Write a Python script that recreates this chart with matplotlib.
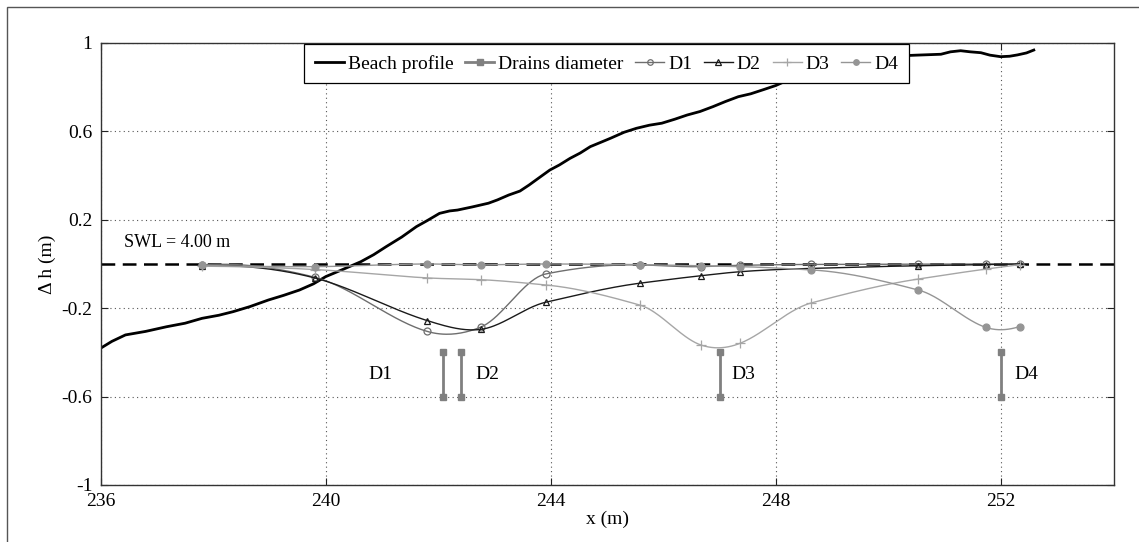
import numpy as np
import matplotlib
matplotlib.use("Agg")
import matplotlib.pyplot as plt
from matplotlib.patches import Rectangle

plt.rcParams['font.family'] = ['Liberation Serif', 'DejaVu Serif']

# ---------------- data ----------------
profile_x = [236.0, 236.20, 236.44, 236.80, 237.17, 237.50, 237.80, 238.10, 238.35,
             238.65, 238.98, 239.25, 239.53, 239.78, 240.0, 240.30, 240.62,
             240.85, 241.07, 241.35, 241.61, 241.80, 242.02, 242.20, 242.34, 242.60,
             242.89, 243.05, 243.25, 243.45, 243.61, 243.80, 243.98, 244.15, 244.34,
             244.52, 244.70, 244.90, 245.06, 245.30, 245.52, 245.75, 245.97, 246.20,
             246.42, 246.65, 246.88, 247.10, 247.33, 247.55, 247.79, 248.0, 248.15,
             248.5, 249.0, 249.5, 250.0, 250.5, 250.93, 251.10, 251.28, 251.45,
             251.64, 251.80, 251.99, 252.15, 252.29, 252.45, 252.58]
profile_y = [-0.381, -0.350, -0.321, -0.305, -0.284, -0.268, -0.246, -0.232, -0.216,
             -0.193, -0.163, -0.142, -0.118, -0.090, -0.057, -0.025, 0.010,
             0.042, 0.078, 0.122, 0.169, 0.196, 0.229, 0.240, 0.244, 0.258,
             0.275, 0.290, 0.312, 0.330, 0.357, 0.392, 0.425, 0.448, 0.478,
             0.502, 0.531, 0.552, 0.569, 0.596, 0.614, 0.628, 0.637, 0.655,
             0.674, 0.690, 0.712, 0.735, 0.757, 0.770, 0.790, 0.808, 0.825,
             0.85, 0.89, 0.92, 0.94, 0.945, 0.949, 0.960, 0.965, 0.960,
             0.956, 0.945, 0.938, 0.940, 0.946, 0.955, 0.968]

sensor_x = [237.80, 239.80, 241.80, 242.75, 243.91, 245.58, 246.67, 247.36,
            248.63, 250.53, 251.73, 252.33]
d1 = [-0.005, -0.060, -0.305, -0.286, -0.045, -0.004, -0.012, -0.006,
      -0.002, -0.001, 0.0, 0.0]
d2 = [-0.008, -0.063, -0.256, -0.296, -0.173, -0.087, -0.053, -0.035,
      -0.020, -0.008, -0.003, 0.0]
d3 = [-0.010, -0.025, -0.063, -0.071, -0.095, -0.186, -0.367, -0.359,
      -0.176, -0.068, -0.023, -0.003]
d4 = [-0.006, -0.012, 0.0, -0.004, 0.0, -0.003, -0.008, -0.012,
      -0.027, -0.118, -0.287, -0.283]

drain_x = [242.08, 242.40, 247.0, 252.0]
drain_top = -0.4
drain_bottom = -0.6
drain_names = ['D1', 'D2', 'D3', 'D4']
drain_label_x = [240.97, 242.87, 247.42, 252.44]
drain_label_y = -0.5

swl_level = 0.0
swl_text = 'SWL = 4.00 m'

xticks = [236, 240, 244, 248, 252]
yticks = [-1, -0.6, -0.2, 0.2, 0.6, 1]


def akima(x, y, n=500):
    x = np.asarray(x, float)
    y = np.asarray(y, float)
    m = np.diff(y) / np.diff(x)
    mm = np.concatenate([[3 * m[0] - 2 * m[1], 2 * m[0] - m[1]], m,
                         [2 * m[-1] - m[-2], 3 * m[-1] - 2 * m[-2]]])
    t = np.zeros(len(x))
    for i in range(len(x)):
        m0, m1, m2, m3 = mm[i], mm[i + 1], mm[i + 2], mm[i + 3]
        w1 = abs(m3 - m2)
        w2 = abs(m1 - m0)
        if w1 + w2 < 1e-12:
            t[i] = 0.5 * (m1 + m2)
        else:
            t[i] = (w1 * m1 + w2 * m2) / (w1 + w2)
    xs = np.linspace(x[0], x[-1], n)
    idx = np.clip(np.searchsorted(x, xs) - 1, 0, len(x) - 2)
    h = x[idx + 1] - x[idx]
    s = (xs - x[idx]) / h
    h00 = 2 * s ** 3 - 3 * s ** 2 + 1
    h10 = s ** 3 - 2 * s ** 2 + s
    h01 = -2 * s ** 3 + 3 * s ** 2
    h11 = s ** 3 - s ** 2
    ys = h00 * y[idx] + h10 * h * t[idx] + h01 * y[idx + 1] + h11 * h * t[idx + 1]
    return xs, ys


fig = plt.figure(figsize=(11.39, 5.42), dpi=100)
ax = fig.add_axes([0.0884, 0.1052, 0.9778 - 0.0884, 0.9207 - 0.1052])

# outer frame
fig.patches.append(Rectangle((7 / 1139, -0.5), 1.5, 1.5 - 7 / 542, transform=fig.transFigure,
                             fill=False, edgecolor='#555555', linewidth=1.0))

h_prof, = ax.plot(profile_x, profile_y, color='black', lw=2.0)

ax.axhline(swl_level, color='black', lw=1.8, ls=(0, (5.5, 3)))
ax.text(236.41, 0.095, swl_text, fontsize=13, va='center', ha='left')

h_drain = None
for dx_ in drain_x:
    h_drain, = ax.plot([dx_, dx_], [drain_top, drain_bottom], color='#808080', lw=2,
                       marker='s', markersize=4.5, markeredgecolor='#808080',
                       markerfacecolor='#808080')
for nm, lx in zip(drain_names, drain_label_x):
    ax.text(lx, drain_label_y, nm, fontsize=14, ha='center', va='center')

series = [
    (d1, '#6e6e6e', 'o', 'none', 1.0, 'D1'),
    (d2, '#1a1a1a', '^', 'none', 1.0, 'D2'),
    (d3, '#a6a6a6', '+', '#a6a6a6', 1.0, 'D3'),
    (d4, '#959595', 'o', '#959595', 1.0, 'D4'),
]
handles = []
for vals, col, mk, mfc, lw, lab in series:
    xs, ys = akima(sensor_x, vals)
    ax.plot(xs, ys, color=col, lw=lw)
    ax.plot(sensor_x, vals, ls='none', marker=mk, markersize=5 if mk != '+' else 7,
            markerfacecolor=mfc, markeredgecolor=col, markeredgewidth=0.9)
    h, = ax.plot([], [], color=col, lw=lw, marker=mk, markersize=4 if mk != '+' else 6,
                 markerfacecolor=mfc, markeredgecolor=col, markeredgewidth=0.9)
    handles.append((h, lab))

ax.set_xlim(236, 254)
ax.set_ylim(-1, 1)
ax.set_xticks(xticks)
ax.set_yticks(yticks)
ax.set_xticklabels([str(t) for t in xticks])
ax.set_yticklabels(['-1', '-0.6', '-0.2', '0.2', '0.6', '1'])
ax.tick_params(direction='in', length=5, width=0.8, top=True, right=True,
               labelsize=14, pad=6, colors='#222222', labelcolor='black')
ax.grid(True, ls=(0, (1, 3)), color='#555555', lw=0.8)
for sp in ax.spines.values():
    sp.set_linewidth(1.0)
    sp.set_color('#333333')

ax.set_xlabel('x (m)', fontsize=14, labelpad=0)
ax.set_ylabel('Δ h (m)', fontsize=14, labelpad=4)

leg = ax.legend([h_prof, h_drain] + [h for h, _ in handles],
                ['Beach profile', 'Drains diameter'] + [l for _, l in handles],
                loc='upper left', bbox_to_anchor=((303 - 100.7) / 1013, 1.0), ncol=6,
                fontsize=14, frameon=True, fancybox=False, edgecolor='black',
                framealpha=1.0, handlelength=1.5, handletextpad=0.2, columnspacing=0.6,
                borderpad=0.55, borderaxespad=0.05)
leg.get_frame().set_linewidth(0.9)

fig.savefig('out.png', dpi=100, facecolor='white')
